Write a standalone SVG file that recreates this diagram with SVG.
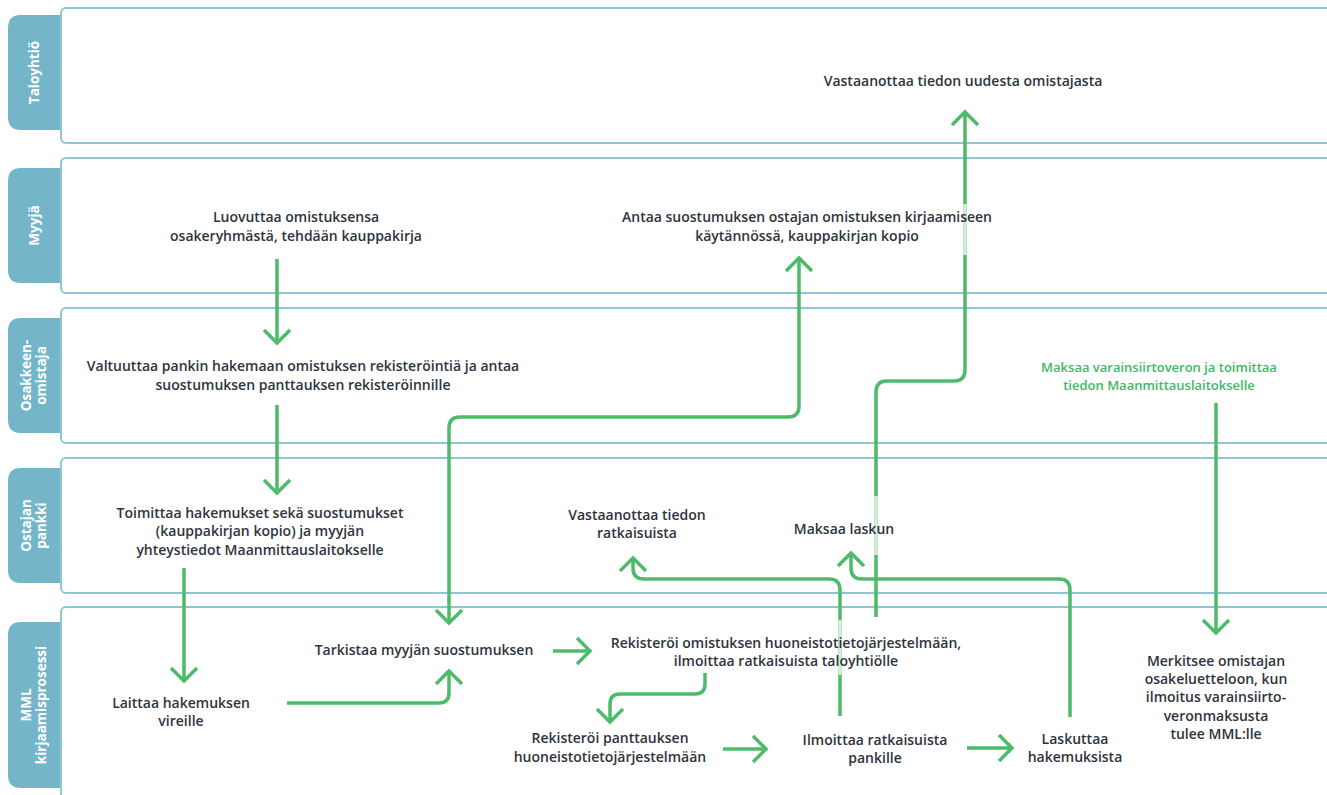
<svg xmlns="http://www.w3.org/2000/svg" width="1327" height="795" viewBox="0 0 1327 795">
<style>
.panel{fill:#fff;stroke:#8fc6d6;stroke-width:2}
.tab{fill:#74b5c9}
.tabt{font-family:"Open Sans","Liberation Sans",sans-serif;font-size:13.5px;font-weight:700;fill:#fff;text-anchor:middle}
.t{font-family:"Open Sans","Liberation Sans",sans-serif;font-size:14px;fill:#2e343d;text-anchor:middle;font-weight:600}
.g{fill:#3fb866;font-size:13px;font-weight:600}
.c{fill:none;stroke:#4dbb6a;stroke-width:3.5;stroke-linejoin:round}
.f{stroke:#d6efdd;stroke-width:3.5}
</style>
<defs>
<marker id="ah" viewBox="-16 -16 32 32" refX="0" refY="0" markerWidth="32" markerHeight="32" markerUnits="userSpaceOnUse" orient="auto-start-reverse">
<path d="M-13,-13 L0,0 L-13,13" fill="none" stroke="#4dbb6a" stroke-width="3.5" stroke-linejoin="miter"/>
</marker>
</defs>
<rect width="1327" height="795" fill="#fff"/>
<g id="lanes">
<g id="lane-taloyhtio"><path class="tab" d="M62,15 H21 Q8,15 8,28 V117 Q8,130 21,130 H62 Z"/><rect class="panel" x="61" y="8" width="1300" height="135" rx="5"/><text class="tabt" transform="translate(39,72.5) rotate(-90)">Taloyhtiö</text></g>
<g id="lane-myyja"><path class="tab" d="M62,168 H21 Q8,168 8,181 V270 Q8,283 21,283 H62 Z"/><rect class="panel" x="61" y="158" width="1300" height="135" rx="5"/><text class="tabt" transform="translate(39,225.5) rotate(-90)">Myyjä</text></g>
<g id="lane-osakkeenomistaja"><path class="tab" d="M62,318 H21 Q8,318 8,331 V420 Q8,433 21,433 H62 Z"/><rect class="panel" x="61" y="308" width="1300" height="135" rx="5"/><text class="tabt" transform="translate(31,375.5) rotate(-90)">Osakkeen-</text><text class="tabt" transform="translate(46,375.5) rotate(-90)">omistaja</text></g>
<g id="lane-ostajanpankki"><path class="tab" d="M62,468 H21 Q8,468 8,481 V570 Q8,583 21,583 H62 Z"/><rect class="panel" x="61" y="458" width="1300" height="135" rx="5"/><text class="tabt" transform="translate(31,525.5) rotate(-90)">Ostajan</text><text class="tabt" transform="translate(46,525.5) rotate(-90)">pankki</text></g>
<g id="lane-mml"><path class="tab" d="M62,622 H21 Q8,622 8,635 V775 Q8,788 21,788 H62 Z"/><rect class="panel" x="61" y="607" width="1300" height="220" rx="5"/><text class="tabt" transform="translate(31,705) rotate(-90)">MML</text><text class="tabt" transform="translate(46,705) rotate(-90)">kirjaamisprosessi</text></g>
</g>
<g id="connectors">
<path class="c" d="M277,259 V343" marker-end="url(#ah)"/>
<path class="c" d="M277,405 V493" marker-end="url(#ah)"/>
<path class="c" d="M184,568 V681" marker-end="url(#ah)"/>
<path class="c" d="M287,703 H439 Q449,703 449,693 V671" marker-end="url(#ah)"/>
<path class="c" d="M799,258 V406 Q799,417 788,417 H460 Q449,417 449,428 V623" marker-start="url(#ah)" marker-end="url(#ah)"/>
<path class="c" d="M876,617 V392 Q876,381 887,381 H954 Q965,381 965,370 V112" marker-end="url(#ah)"/>
<path class="c" d="M840,716 V590 Q840,579 829,579 H644 Q633,579 633,568 V558" marker-end="url(#ah)"/>
<path class="c" d="M1070,717 V590 Q1070,579 1059,579 H862 Q851,579 851,568 V553" marker-end="url(#ah)"/>
<path class="c" d="M553,651 H590" marker-end="url(#ah)"/>
<path class="c" d="M705,673 V684 Q705,694 695,694 H620 Q610,694 610,704 V722" marker-end="url(#ah)"/>
<path class="c" d="M723,749 H766" marker-end="url(#ah)"/>
<path class="c" d="M967,748 H1012" marker-end="url(#ah)"/>
<path class="c" d="M1216,403 V633" marker-end="url(#ah)"/>
<line class="f" x1="965" y1="204" x2="965" y2="255"/>
<line class="f" x1="876" y1="496" x2="876" y2="555"/>
<line class="f" x1="840" y1="620" x2="840" y2="675"/>
</g>
<g id="n-taloyhtio-vastaanottaa"><text class="t" x="963" y="86">Vastaanottaa tiedon uudesta omistajasta</text></g>
<g id="n-luovuttaa"><text class="t" x="296" y="222">Luovuttaa omistuksensa</text><text class="t" x="296" y="241">osakeryhmästä, tehdään kauppakirja</text></g>
<g id="n-antaa"><text class="t" x="807" y="222">Antaa suostumuksen ostajan omistuksen kirjaamiseen</text><text class="t" x="807" y="241">käytännössä, kauppakirjan kopio</text></g>
<g id="n-valtuuttaa"><text class="t" x="303" y="371">Valtuuttaa pankin hakemaan omistuksen rekisteröintiä ja antaa</text><text class="t" x="303" y="390">suostumuksen panttauksen rekisteröinnille</text></g>
<g id="n-maksaa-vero"><text class="t g" x="1159" y="372">Maksaa varainsiirtoveron ja toimittaa</text><text class="t g" x="1159" y="390">tiedon Maanmittauslaitokselle</text></g>
<g id="n-toimittaa"><text class="t" x="260" y="518">Toimittaa hakemukset sekä suostumukset</text><text class="t" x="260" y="536">(kauppakirjan kopio) ja myyjän</text><text class="t" x="260" y="555">yhteystiedot Maanmittauslaitokselle</text></g>
<g id="n-vastaanottaa-ratkaisu"><text class="t" x="637" y="520">Vastaanottaa tiedon</text><text class="t" x="637" y="538">ratkaisuista</text></g>
<g id="n-maksaa-laskun"><text class="t" x="844" y="534">Maksaa laskun</text></g>
<g id="n-tarkistaa"><text class="t" x="424" y="655">Tarkistaa myyjän suostumuksen</text></g>
<g id="n-rekisteroi-omistus"><text class="t" x="786" y="648">Rekisteröi omistuksen huoneistotietojärjestelmään,</text><text class="t" x="786" y="666">ilmoittaa ratkaisuista taloyhtiölle</text></g>
<g id="n-laittaa"><text class="t" x="181" y="708">Laittaa hakemuksen</text><text class="t" x="181" y="726">vireille</text></g>
<g id="n-rekisteroi-pantti"><text class="t" x="610" y="743">Rekisteröi panttauksen</text><text class="t" x="610" y="762">huoneistotietojärjestelmään</text></g>
<g id="n-ilmoittaa"><text class="t" x="875" y="745">Ilmoittaa ratkaisuista</text><text class="t" x="875" y="763">pankille</text></g>
<g id="n-laskuttaa"><text class="t" x="1075" y="744">Laskuttaa</text><text class="t" x="1075" y="762">hakemuksista</text></g>
<g id="n-merkitsee"><text class="t" x="1216" y="666">Merkitsee omistajan</text><text class="t" x="1216" y="684">osakeluetteloon, kun</text><text class="t" x="1216" y="702">ilmoitus varainsiirto-</text><text class="t" x="1216" y="721">veronmaksusta</text><text class="t" x="1216" y="739">tulee MML:lle</text></g>
</svg>
